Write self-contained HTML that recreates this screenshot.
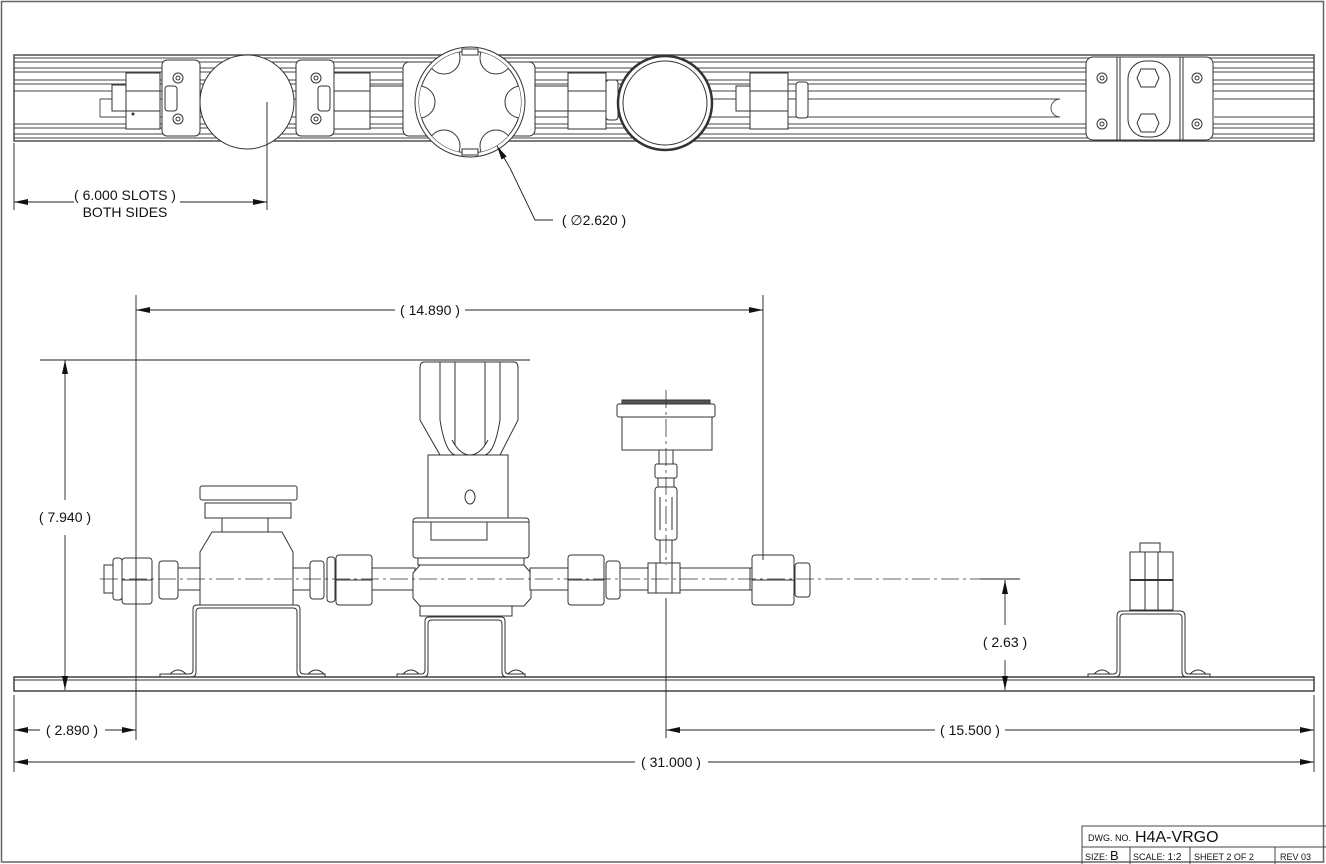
<!DOCTYPE html>
<html><head><meta charset="utf-8"><style>
html,body{margin:0;padding:0;background:#fff;}
svg{display:block;}
text{font-family:"Liberation Sans",sans-serif;fill:#111;}
</style></head><body>
<svg width="1326" height="864" viewBox="0 0 1326 864" xmlns="http://www.w3.org/2000/svg">
<defs>
<marker id="a" viewBox="0 0 14 6" refX="14" refY="3" markerWidth="14" markerHeight="6" orient="auto" markerUnits="userSpaceOnUse"><path d="M0,0 L14,3 L0,6 Z" fill="#111"/></marker>
<clipPath id="rc"><circle cx="470" cy="102" r="51"/></clipPath>
</defs>
<g fill="none" stroke="#666" stroke-width="1.5">
<path d="M1.5,1.5 H1323.5 V862 H1.5 Z"/>
</g>
<!-- TOP RAIL -->
<g fill="none" stroke="#444" stroke-width="0.9">
<rect x="14" y="55" width="1300" height="86" stroke-width="1.4"/>
<path d="M14,58H1314 M14,62H1314 M14,68H1314 M14,72H1314 M14,80H1314 M14,84H1314 M14,91H1314 M100,99H1060 M100,117H1060 M14,124H1314 M14,128H1314 M14,134H1314 M14,138H1314 M1214,99H1314 M1214,117H1314"/>
<path d="M100,99 V117 M1060,99 A9,9 0 0 0 1060,117"/>
</g>
<g fill="#fff" stroke="#333" stroke-width="1">
<rect x="112" y="85" width="16" height="26"/>
<rect x="126" y="73" width="34" height="56"/><path d="M126,91H160 M126,111H160"/>
<circle cx="133" cy="114" r="1" fill="#333"/>
<rect x="162" y="60" width="38" height="76" rx="5"/>
<circle cx="178" cy="78" r="5"/><circle cx="178" cy="78" r="2"/>
<circle cx="178" cy="119" r="5"/><circle cx="178" cy="119" r="2"/>
<rect x="165" y="86" width="12" height="25" rx="3"/>
<circle cx="247" cy="102" r="47"/>
<rect x="296" y="60" width="38" height="76" rx="5"/>
<circle cx="316" cy="78" r="5"/><circle cx="316" cy="78" r="2"/>
<circle cx="316" cy="119" r="5"/><circle cx="316" cy="119" r="2"/>
<rect x="318" y="86" width="12" height="25" rx="3"/>
<rect x="334" y="73" width="36" height="56"/><path d="M334,91H370 M334,111H370"/>
<rect x="370" y="86" width="34" height="25"/>
<rect x="403" y="62" width="132" height="74" rx="6"/>
<rect x="535" y="86" width="33" height="25"/>
<circle cx="470" cy="102" r="55"/><circle cx="470" cy="102" r="51"/>
<g clip-path="url(#rc)">
<circle cx="419" cy="102" r="16"/><circle cx="521" cy="102" r="16"/>
<circle cx="444" cy="58" r="16"/><circle cx="496" cy="58" r="16"/>
<circle cx="444" cy="146" r="16"/><circle cx="496" cy="146" r="16"/>
</g>
<rect x="462" y="49" width="16" height="6"/>
<rect x="462" y="149" width="16" height="6"/>
<rect x="568" y="73" width="38" height="56"/><path d="M568,91H606 M568,111H606"/>
<rect x="606" y="80" width="12" height="40" rx="3"/>
<circle cx="665" cy="103" r="47" stroke-width="2.5"/><circle cx="665" cy="103" r="42"/>
<rect x="736" y="86" width="14" height="25"/>
<rect x="750" y="73" width="38" height="56"/><path d="M750,91H788 M750,111H788"/>
<rect x="796" y="82" width="12" height="36" rx="3"/>
<rect x="1086" y="57" width="127" height="83" rx="7"/>
<path d="M1117,57V140 M1120,57V140 M1180,57V140 M1183,57V140"/>
<rect x="1128" y="61" width="42" height="76" rx="18"/>
<polygon points="1141,69 1155,69 1159,78 1155,87 1141,87 1137,78"/>
<polygon points="1141,114 1155,114 1159,123 1155,132 1141,132 1137,123"/>
<circle cx="1102" cy="78" r="5"/><circle cx="1102" cy="78" r="2"/>
<circle cx="1102" cy="124" r="5"/><circle cx="1102" cy="124" r="2"/>
<circle cx="1197" cy="78" r="5"/><circle cx="1197" cy="78" r="2"/>
<circle cx="1197" cy="124" r="5"/><circle cx="1197" cy="124" r="2"/>
</g>
<g stroke="#222" stroke-width="0.9" fill="none">
<path d="M14,143V210 M267,102V210"/>
<path d="M74,202H14" marker-end="url(#a)"/><path d="M180,202H267" marker-end="url(#a)"/>
<path d="M553,220H535L510,168"/><path d="M510,168L497,146" marker-end="url(#a)"/>
</g>
<text x="125" y="200" font-size="14" text-anchor="middle">( 6.000 SLOTS )</text>
<text x="125" y="217" font-size="14" text-anchor="middle">BOTH SIDES</text>
<text x="594" y="225" font-size="14" text-anchor="middle">( ∅2.620 )</text>

<!-- BOTTOM VIEW -->
<g fill="none" stroke="#333" stroke-width="1">
<rect x="14" y="677" width="1300" height="14" stroke-width="1.4"/>
<path d="M14,680H1314"/>
<!-- brackets (thin sheet U) -->
<path d="M160,677V674H189Q193,674 193,670V609Q193,605 197,605H296Q300,605 300,609V670Q300,674 304,674H325V677"/>
<path d="M160,677H191Q196,677 196,672V612Q196,608 200,608H293Q297,608 297,612V672Q297,677 302,677H325"/>
<path d="M397,677V674H421Q425,674 425,670V621Q425,617 429,617H501Q505,617 505,621V670Q505,674 509,674H525V677"/>
<path d="M397,677H423Q428,677 428,672V624Q428,620 432,620H498Q502,620 502,624V672Q502,677 507,677H525"/>
<path d="M1088,677V674H1113Q1117,674 1117,670V616Q1117,611 1122,611H1180Q1185,611 1185,616V670Q1185,674 1189,674H1210V677"/>
<path d="M1088,677H1115Q1120,677 1120,672V618Q1120,614 1124,614H1178Q1182,614 1182,618V672Q1182,677 1187,677H1210"/>
<path d="M170,674Q178,666 186,674 M308,674Q316,666 324,674 M403,674Q411,666 419,674 M508,674Q516,666 524,674 M1094,674Q1102,666 1110,674 M1190,674Q1198,666 1206,674"/>
</g>
<g fill="#fff" stroke="#333" stroke-width="1">
<rect x="104" y="565" width="10" height="28"/>
<rect x="113" y="558" width="9" height="42" rx="3"/>
<rect x="122" y="558" width="30" height="46" rx="3"/><path d="M122,580H152"/>
<rect x="159" y="561" width="19" height="38" rx="3"/>
<rect x="178" y="568" width="22" height="22"/>
<path d="M200,605V552L212,532H282L293,552V605Z"/>
<rect x="222" y="518" width="46" height="14"/>
<rect x="205" y="503" width="86" height="15"/>
<rect x="200" y="486" width="97" height="14" rx="2"/><path d="M204,500H293"/>
<rect x="293" y="568" width="25" height="22"/>
<rect x="310" y="561" width="14" height="38" rx="3"/>
<rect x="327" y="557" width="8" height="45" rx="3"/>
<rect x="336" y="555" width="36" height="50" rx="3"/><path d="M336,580H372"/>
<rect x="372" y="568" width="43" height="22"/>
<rect x="420" y="602" width="92" height="14"/>
<path d="M420,565H524L531,573V598L524,606H420L413,598V573Z"/>
<rect x="418" y="558" width="106" height="7"/>
<rect x="413" y="518" width="116" height="40" rx="3"/><path d="M413,522H529"/>
<rect x="431" y="522" width="56" height="18"/>
<rect x="428" y="455" width="80" height="63"/>
<ellipse cx="470" cy="497" rx="5" ry="7"/>
<path d="M424,362Q420,362 420,368V420L440,455H500L518,420V368Q518,362 514,362Z"/>
<path d="M440,362V420 M500,362V420 M455,362V445 M485,362V445 M440,420Q445,452 455,455 M500,420Q495,452 485,455 M452,440Q460,455 470,455 M488,440Q480,455 470,455"/>
<rect x="530" y="568" width="38" height="22"/>
<rect x="568" y="555" width="36" height="50" rx="3"/><path d="M568,580H604"/>
<rect x="606" y="561" width="14" height="38" rx="3"/>
<rect x="620" y="568" width="28" height="22"/>
<rect x="648" y="563" width="32" height="30"/><path d="M656,563V593 M672,563V593"/>
<rect x="680" y="568" width="72" height="22"/>
<rect x="660" y="540" width="12" height="23"/>
<rect x="655" y="487" width="22" height="53" rx="3"/><path d="M660,497V530 M672,497V530"/>
<rect x="658" y="478" width="16" height="9"/>
<rect x="655" y="464" width="22" height="14" rx="2"/>
<rect x="659" y="450" width="14" height="14"/>
<rect x="622" y="417" width="90" height="33"/>
<rect x="617" y="404" width="98" height="13" rx="2"/>
<rect x="622" y="400" width="88" height="4" fill="#555"/>
<rect x="750" y="568" width="5" height="22"/>
<rect x="752" y="555" width="42" height="50" rx="3"/><path d="M752,580H794"/>
<rect x="795" y="563" width="15" height="34" rx="3"/>
<rect x="1130" y="552" width="43" height="58"/><path d="M1130,580H1173" stroke-width="2"/><path d="M1145,552V610 M1158,552V610"/>
<rect x="1140" y="543" width="20" height="9"/>
</g>
<g stroke="#333" stroke-width="0.8" fill="none" stroke-dasharray="18,4,3,4">
<path d="M100,579H1018"/>
<path d="M666,390V565"/>
</g>
<g stroke="#222" stroke-width="0.9" fill="none">
<path d="M136,295V740 M763,295V560 M666,598V738 M14,695V772 M1314,695V772"/>
<path d="M40,360H530 M980,579H1020"/>
<path d="M395,310H136" marker-end="url(#a)"/><path d="M465,310H763" marker-end="url(#a)"/>
<path d="M65,500V360" marker-end="url(#a)"/><path d="M65,535V690" marker-end="url(#a)"/>
<path d="M1005,625V580" marker-end="url(#a)"/><path d="M1005,660V690" marker-end="url(#a)"/>
<path d="M40,730H14" marker-end="url(#a)"/><path d="M105,730H136" marker-end="url(#a)"/>
<path d="M935,730H666" marker-end="url(#a)"/><path d="M1005,730H1314" marker-end="url(#a)"/>
<path d="M635,762H14" marker-end="url(#a)"/><path d="M708,762H1314" marker-end="url(#a)"/>
</g>
<g font-size="14" text-anchor="middle">
<text x="430" y="315">( 14.890 )</text>
<text x="65" y="522">( 7.940 )</text>
<text x="1005" y="647">( 2.63 )</text>
<text x="72" y="735">( 2.890 )</text>
<text x="970" y="735">( 15.500 )</text>
<text x="671" y="767">( 31.000 )</text>
</g>
<g fill="none" stroke="#444" stroke-width="1">
<path d="M1082,864V826H1326 M1082,847H1326 M1130,847V864 M1190,847V864 M1275,847V864"/>
</g>
<text x="1088" y="841" font-size="9">DWG. NO.</text>
<text x="1135" y="842" font-size="16">H4A-VRGO</text>
<text x="1085" y="860" font-size="9">SIZE: <tspan font-size="13">B</tspan></text>
<text x="1133" y="860" font-size="9">SCALE:  <tspan font-size="10">1:2</tspan></text>
<text x="1194" y="860" font-size="9">SHEET     2 OF 2</text>
<text x="1280" y="860" font-size="9">REV  03</text>
</svg>
</body></html>
